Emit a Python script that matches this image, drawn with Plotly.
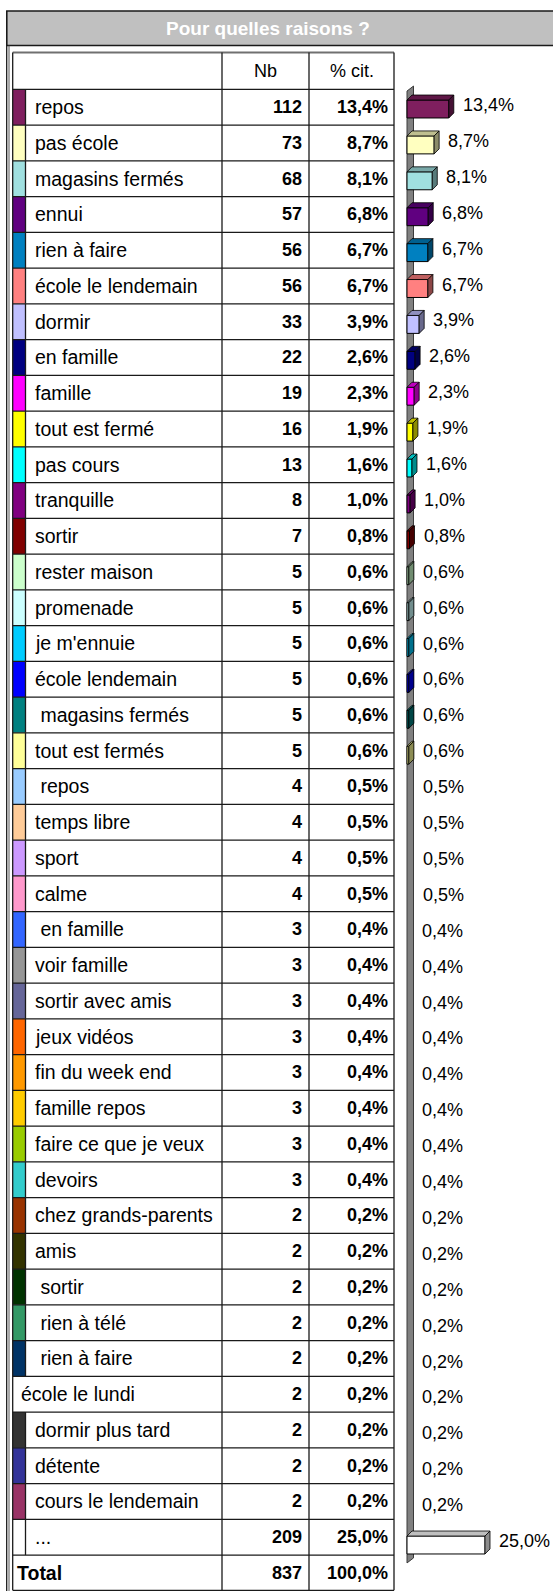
import plotly.graph_objects as go

# ---------------- data ----------------
title_text = "Pour quelles raisons ?"
header_labels = ["Nb", "% cit."]
categories = [
    "repos", "pas école", "magasins fermés", "ennui", "rien à faire",
    "école le lendemain", "dormir", "en famille", "famille", "tout est fermé",
    "pas cours", "tranquille", "sortir", "rester maison", "promenade",
    "je m'ennuie", "école lendemain", "\u00a0magasins fermés", "tout est fermés",
    "\u00a0repos", "temps libre", "sport", "calme", "\u00a0en famille",
    "voir famille", "sortir avec amis", "jeux vidéos", "fin du week end",
    "famille repos", "faire ce que je veux", "devoirs", "chez grands-parents",
    "amis", "\u00a0sortir", "\u00a0rien à télé", "\u00a0rien à faire",
    "école le lundi", "dormir plus tard", "détente", "cours le lendemain", "...",
]
counts = [112, 73, 68, 57, 56, 56, 33, 22, 19, 16, 13, 8, 7, 5, 5, 5, 5, 5, 5,
          4, 4, 4, 4, 3, 3, 3, 3, 3, 3, 3, 3, 2, 2, 2, 2, 2, 2, 2, 2, 2, 209]
percents = [13.4, 8.7, 8.1, 6.8, 6.7, 6.7, 3.9, 2.6, 2.3, 1.9, 1.6, 1.0, 0.8,
            0.6, 0.6, 0.6, 0.6, 0.6, 0.6, 0.5, 0.5, 0.5, 0.5, 0.4, 0.4, 0.4,
            0.4, 0.4, 0.4, 0.4, 0.4, 0.2, 0.2, 0.2, 0.2, 0.2, 0.2, 0.2, 0.2,
            0.2, 25.0]
colors = [
    "#7F1F5F", "#FFFFC0", "#A0E0E0", "#600080", "#0080C0", "#FF8080",
    "#C0C0FF", "#000080", "#FF00FF", "#FFFF00", "#00FFFF", "#800080",
    "#800000", "#CCFFCC", "#CCFFFF", "#00CCFF", "#0000FF", "#008080",
    "#FFFF99", "#99CCFF", "#FFCC99", "#CC99FF", "#FF99CC", "#3366FF",
    "#969696", "#666699", "#FF6600", "#FF9900", "#FFCC00", "#99CC00",
    "#33CCCC", "#993300", "#333300", "#003300", "#339966", "#003366",
    None, "#333333", "#333399", "#993366", "#FFFFFF",
]
total_label = "Total"
total_count = 837
total_percent = 100.0

# ---------------- geometry (pixels) ----------------
W, H = 553, 1591
FONT = "Liberation Sans, Arial, sans-serif"
LINE = "#1a1a1a"


def X(px):
    return px / W


def Y(py):
    return 1 - py / H


def fmt_pct(v):
    return f"{v:.1f}".replace(".", ",") + "%"


n = len(categories)
HEADER_TOP = 52.5
ROW_TOP = 89.3
ROW_H = 35.75
TOTAL_TOP = ROW_TOP + n * ROW_H
TABLE_B = 1590.3
TL, C1, C2, TR = 12.7, 222.0, 309.0, 394.0
SW_R = 25.5

shapes = []
annotations = []


def line(x0, y0, x1, y1, color=LINE, w=1.3):
    shapes.append(dict(type="line", xref="paper", yref="paper",
                       x0=X(x0), y0=Y(y0), x1=X(x1), y1=Y(y1),
                       line=dict(color=color, width=w)))


def rect(x0, y0, x1, y1, fill, lc=None, w=0, layer="above"):
    shapes.append(dict(type="rect", xref="paper", yref="paper",
                       x0=X(x0), y0=Y(y0), x1=X(x1), y1=Y(y1),
                       fillcolor=fill, layer=layer,
                       line=dict(color=lc if lc else fill, width=w)))


def text(px, py, s, anchor="left", size=18, color="black"):
    annotations.append(dict(xref="paper", yref="paper", x=X(px), y=Y(py),
                            text=s, showarrow=False, xanchor=anchor,
                            yanchor="middle",
                            font=dict(family=FONT, size=size, color=color)))


# title bar and outer frame
rect(6.7, 11, 600, 45.5, "#C0C0C0", LINE, 1.3)
line(6.7, 11, 6.7, 1591)
line(9.0, 45.5, 9.0, 1591, "#555555", 1.0)
text(268, 28.5, f"<b>{title_text}</b>", "center", 19, "white")

# swatches
for i, c in enumerate(colors):
    if c is None:
        continue
    y0 = ROW_TOP + i * ROW_H
    rect(TL, y0, SW_R, y0 + ROW_H, c)
    line(SW_R, y0, SW_R, y0 + ROW_H)

# table grid
line(TL, HEADER_TOP, TR, HEADER_TOP, "#707070", 1.8)
for k in range(n + 1):
    yy = ROW_TOP + k * ROW_H
    line(TL, yy, TR, yy)
line(TL, TABLE_B, TR, TABLE_B)
for xx in (TL, C1, C2, TR):
    line(xx, HEADER_TOP, xx, TABLE_B)

# header
hc = (HEADER_TOP + ROW_TOP) / 2
text((C1 + C2) / 2, hc, header_labels[0], "center", 18)
text((C2 + TR) / 2, hc, header_labels[1], "center", 18)

# rows
for i, (lab, cnt, p, c) in enumerate(zip(categories, counts, percents, colors)):
    yc = ROW_TOP + (i + 0.5) * ROW_H
    text(33 if c is not None else 19, yc, lab, "left", 19.5)
    text(C2 - 5, yc, f"<b>{cnt}</b>", "right", 18)
    text(TR - 4, yc, f"<b>{fmt_pct(p)}</b>", "right", 18)

# total row
yc = (TOTAL_TOP + TABLE_B) / 2
text(15, yc, f"<b>{total_label}</b>", "left", 19.5)
text(C2 - 5, yc, f"<b>{total_count}</b>", "right", 18)
text(TR - 4, yc, f"<b>{fmt_pct(total_percent)}</b>", "right", 18)

# ---------------- 3D bar chart ----------------
PX_PER_PCT = 3.12
X0_PX = 407.0
XMIN = -1.0
XMAX = (W - X0_PX) / PX_PER_PCT
CAT_PX = 35.9
FIRST_FRONT = 109.0
Y_LO = -1.0          # category coordinate at top of plot area
Y_HI = n - 0.3       # category coordinate at bottom of plot area
DX = 5.0 / PX_PER_PCT       # depth in x units
DY = 5.0 / CAT_PX           # depth in category units (upwards)
WALL_DX = 6.5 / PX_PER_PCT
HALF = 0.25                 # bar half-width in category units
MIN_SHOWN = 0.55            # bars below this vanish in the source chart


def ypx(c):
    return FIRST_FRONT + c * CAT_PX


def shade(hexc, f):
    h = hexc.lstrip("#")
    r, g, b = (int(h[j:j + 2], 16) for j in (0, 2, 4))
    return "#%02X%02X%02X" % (int(r * f), int(g * f), int(b * f))


ypos = list(range(n))
bar_colors = []
bar_lw = []
for p, c in zip(percents, colors):
    if p >= MIN_SHOWN and c is not None:
        bar_colors.append(c)
        bar_lw.append(1)
    else:
        bar_colors.append("rgba(0,0,0,0)")
        bar_lw.append(0)

fig = go.Figure()
fig.add_trace(go.Bar(
    x=percents, y=ypos, orientation="h", width=2 * HALF,
    marker=dict(color=bar_colors, line=dict(color="#000000", width=bar_lw)),
    hoverinfo="skip", showlegend=False,
))

# floor wall
y_top, y_bot = -0.5, n - 0.5
shapes.append(dict(
    type="path", xref="x", yref="y", layer="below",
    path=(f"M 0 {y_top} L 0 {y_bot} L {WALL_DX} {y_bot - DY} "
          f"L {WALL_DX} {y_top - DY} Z"),
    fillcolor="#808080", line=dict(color="#3a3a3a", width=1)))

for i, (p, c) in enumerate(zip(percents, colors)):
    if p < MIN_SHOWN or c is None:
        continue
    t = i - HALF
    b = i + HALF
    shapes.append(dict(
        type="path", xref="x", yref="y",
        path=f"M 0 {t} L {p} {t} L {p + DX} {t - DY} L {DX} {t - DY} Z",
        fillcolor=shade(c, 0.75), line=dict(color="#000000", width=0.8)))
    shapes.append(dict(
        type="path", xref="x", yref="y",
        path=f"M {p} {t} L {p} {b} L {p + DX} {b - DY} L {p + DX} {t - DY} Z",
        fillcolor=shade(c, 0.55), line=dict(color="#000000", width=0.8)))

for i, p in enumerate(percents):
    annotations.append(dict(
        xref="x", yref="y", x=p, y=i, text=fmt_pct(p), showarrow=False,
        xanchor="left", yanchor="middle", xshift=12, yshift=4,
        font=dict(family=FONT, size=18, color="black")))

fig.update_layout(
    width=W, height=H,
    margin=dict(l=0, r=0, t=0, b=0),
    paper_bgcolor="white", plot_bgcolor="rgba(0,0,0,0)",
    xaxis=dict(domain=[X(X0_PX + XMIN * PX_PER_PCT), 1.0], range=[XMIN, XMAX],
               visible=False, fixedrange=True),
    yaxis=dict(domain=[Y(ypx(Y_HI)), Y(ypx(Y_LO))],
               range=[Y_HI, Y_LO], visible=False, fixedrange=True),
    shapes=shapes,
    annotations=annotations,
    bargap=0,
)

fig.write_html(
    "out.html",
    config={"displayModeBar": False, "staticPlot": True},
    post_script="document.body.style.margin='0';document.body.style.padding='0';",
)
